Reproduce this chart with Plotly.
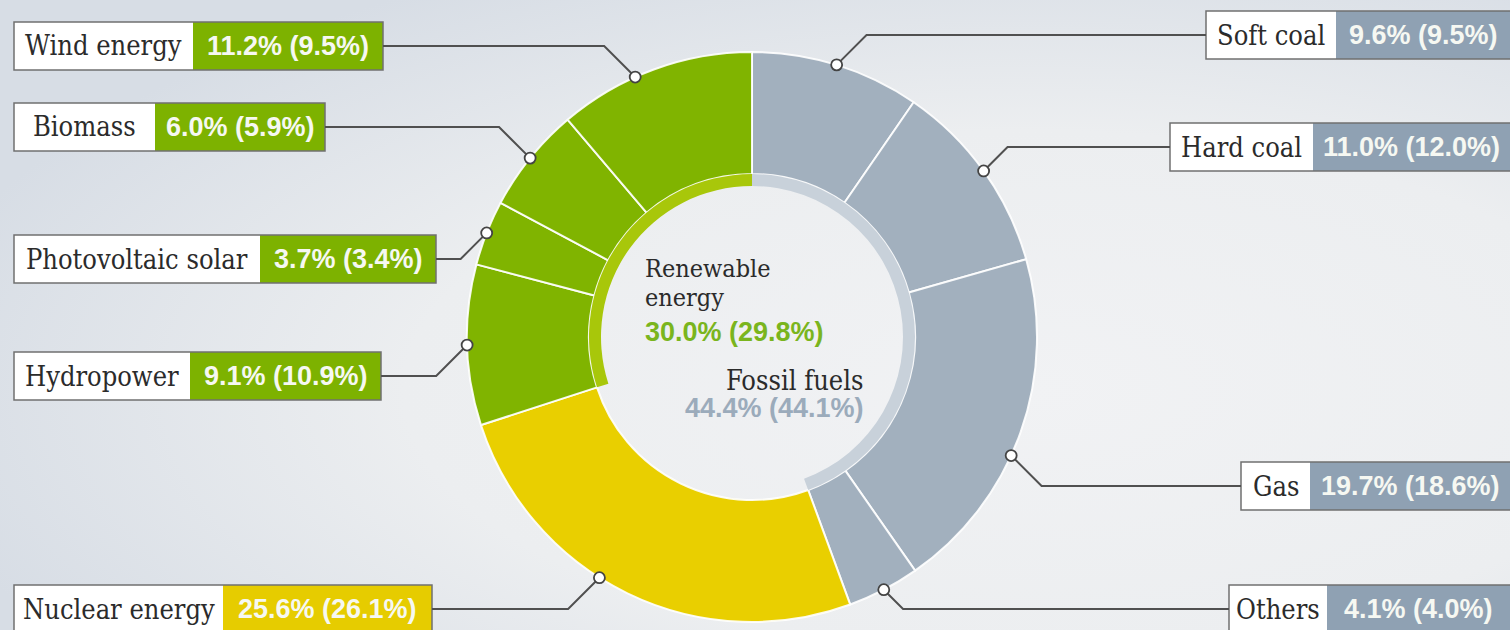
import base64
import numpy as np
import plotly.graph_objects as go

W, H = 1510, 630

# ---------------- data ----------------
categories = ["Soft coal", "Hard coal", "Gas", "Others", "Nuclear energy",
              "Hydropower", "Photovoltaic solar", "Biomass", "Wind energy"]
share_current = [9.6, 11.0, 19.7, 4.1, 25.6, 9.1, 3.7, 6.0, 11.2]
share_previous = [9.5, 12.0, 18.6, 4.0, 26.1, 10.9, 3.4, 5.9, 9.5]
category_group = ["fossil", "fossil", "fossil", "fossil", "nuclear",
                  "renewable", "renewable", "renewable", "renewable"]

group_names = ["Fossil fuels", "Nuclear energy", "Renewable energy"]
group_keys = ["fossil", "nuclear", "renewable"]
group_current = [44.4, 25.6, 30.0]
group_previous = [44.1, 26.1, 29.8]

# ---------------- styles ----------------
seg_color = {"fossil": "#a2b0be", "nuclear": "#e9cf00", "renewable": "#80b400"}
box_color = {"fossil": "#8fa1b3", "nuclear": "#e6cc00", "renewable": "#7db200"}
band_color = {"fossil": "#c8d1da", "nuclear": "rgba(0,0,0,0)", "renewable": "#a8c70a"}
center_text_color = {"fossil": "#9babbb", "renewable": "#7ab51d"}

SERIF = "DejaVu Serif Condensed, DejaVu Serif, serif"
SANS = "Liberation Sans, Arial, sans-serif"
SERIF_SIZE = 27
SANS_SIZE = 27

CX, CY = 752, 337          # donut centre (px)
R_OUT, R_MID, R_IN = 285, 163, 151

# label boxes: (x0, split, x1, y0, y1) in pixels
boxes = {
    "Wind energy":        (14, 193, 383, 22, 70),
    "Biomass":            (14, 155, 325, 103, 151),
    "Photovoltaic solar": (14, 260, 436, 235, 283),
    "Hydropower":         (14, 190, 381, 352, 400),
    "Nuclear energy":     (14, 223, 432, 585, 633),
    "Soft coal":          (1206, 1336, 1514, 11, 59),
    "Hard coal":          (1170, 1313, 1514, 123, 171),
    "Gas":                (1241, 1310, 1514, 462, 510),
    "Others":             (1229, 1327, 1514, 585, 633),
}
# where along its slice each leader line attaches (0 = slice start, 1 = slice end)
anchor_frac = {"Wind energy": 0.40, "Gas": 0.57, "Nuclear energy": 0.57}


def px(x):
    return x / W


def py(y):
    return 1 - y / H


fig = go.Figure()

# outer ring
fig.add_trace(go.Pie(
    labels=categories, values=share_current, sort=False,
    direction="clockwise", rotation=0, hole=R_MID / R_OUT,
    marker=dict(colors=[seg_color[g] for g in category_group],
                line=dict(color="rgba(255,255,255,0.9)", width=2)),
    textinfo="none", hoverinfo="skip", showlegend=False,
    domain=dict(x=[px(CX - R_OUT), px(CX + R_OUT)],
                y=[py(CY + R_OUT), py(CY - R_OUT)]),
))

# inner thin band of groups
fig.add_trace(go.Pie(
    labels=group_names, values=group_current, sort=False,
    direction="clockwise", rotation=0, hole=R_IN / R_MID,
    marker=dict(colors=[band_color[g] for g in group_keys],
                line=dict(color="rgba(0,0,0,0)", width=0)),
    textinfo="none", hoverinfo="skip", showlegend=False,
    domain=dict(x=[px(CX - R_MID), px(CX + R_MID)],
                y=[py(CY + R_MID), py(CY - R_MID)]),
))

shapes = []
annotations = []

total = sum(share_current)
ends = np.cumsum(share_current)
starts = ends - np.array(share_current)

for i, cat in enumerate(categories):
    g = category_group[i]
    x0, xs, x1, y0, y1 = boxes[cat]
    yc = (y0 + y1) / 2
    # boxes
    shapes.append(dict(type="rect", xref="paper", yref="paper",
                       x0=px(x0), x1=px(xs), y0=py(y1), y1=py(y0),
                       fillcolor="white", line=dict(width=0)))
    shapes.append(dict(type="rect", xref="paper", yref="paper",
                       x0=px(xs), x1=px(x1), y0=py(y1), y1=py(y0),
                       fillcolor=box_color[g], line=dict(width=0)))
    shapes.append(dict(type="rect", xref="paper", yref="paper",
                       x0=px(x0), x1=px(x1), y0=py(y1), y1=py(y0),
                       fillcolor="rgba(0,0,0,0)",
                       line=dict(color="#707070", width=1.5)))
    annotations.append(dict(x=px((x0 + xs) / 2), y=py(yc), xref="paper", yref="paper",
                            text=cat, showarrow=False, xanchor="center", yanchor="middle",
                            font=dict(family=SERIF, size=SERIF_SIZE, color="#2b2b2b")))
    vx1 = min(x1, W)
    annotations.append(dict(x=px((xs + vx1) / 2), y=py(yc), xref="paper", yref="paper",
                            text=f"{share_current[i]:.1f}% ({share_previous[i]:.1f}%)",
                            showarrow=False, xanchor="center", yanchor="middle",
                            font=dict(family=SANS, size=SANS_SIZE, color="#f6f8f2", weight="bold")))
    # leader line: from a point on the slice's outer edge
    f = anchor_frac.get(cat, 0.5)
    ang = (starts[i] + f * (ends[i] - starts[i])) / total * 2 * np.pi
    dx = CX + R_OUT * np.sin(ang)
    dy = CY - R_OUT * np.cos(ang)
    left = x1 < CX
    bx = x1 if left else x0
    ex = dx - abs(yc - dy) if left else dx + abs(yc - dy)
    shapes.append(dict(type="path", xref="paper", yref="paper",
                       path=f"M {px(bx)},{py(yc)} L {px(ex)},{py(yc)} L {px(dx)},{py(dy)}",
                       line=dict(color="#505050", width=2)))
    r = 5.5
    shapes.append(dict(type="circle", xref="paper", yref="paper",
                       x0=px(dx - r), x1=px(dx + r), y0=py(dy + r), y1=py(dy - r),
                       fillcolor="white", line=dict(color="#444444", width=1.8)))

# centre labels
ren = group_keys.index("renewable")
fos = group_keys.index("fossil")
ren_words = group_names[ren].split(" ")


def center_text(x, y, text, anchor, font):
    annotations.append(dict(x=px(x), y=py(y), xref="paper", yref="paper", text=text,
                            showarrow=False, xanchor=anchor, yanchor="middle", font=font))


serif_center = dict(family=SERIF, size=25, color="#2b2b2b")
center_text(643, 268, ren_words[0], "left", serif_center)
center_text(643, 297, ren_words[1], "left", serif_center)
center_text(643, 332, f"{group_current[ren]:.1f}% ({group_previous[ren]:.1f}%)", "left",
            dict(family=SANS, size=SANS_SIZE, color=center_text_color["renewable"], weight="bold"))
center_text(865, 380, group_names[fos], "right", dict(family=SERIF, size=SERIF_SIZE, color="#2b2b2b"))
center_text(866, 408, f"{group_current[fos]:.1f}% ({group_previous[fos]:.1f}%)", "right",
            dict(family=SANS, size=SANS_SIZE, color=center_text_color["fossil"], weight="bold"))

# background gradient
svg = (f'<svg xmlns="http://www.w3.org/2000/svg" width="{W}" height="{H}" '
       f'viewBox="0 0 {W} {H}" preserveAspectRatio="none">'
       '<defs><radialGradient id="g" cx="0.68" cy="0.62" r="0.75">'
       '<stop offset="0" stop-color="#f1f2f4"/><stop offset="0.55" stop-color="#eceef0"/>'
       '<stop offset="1" stop-color="#d7dde5"/></radialGradient></defs>'
       f'<rect width="{W}" height="{H}" fill="url(#g)"/></svg>')
bg = "data:image/svg+xml;base64," + base64.b64encode(svg.encode()).decode()

fig.update_layout(
    width=W, height=H,
    margin=dict(l=0, r=0, t=0, b=0),
    paper_bgcolor="#e9ecef", plot_bgcolor="rgba(0,0,0,0)",
    shapes=shapes, annotations=annotations,
    images=[dict(source=bg, xref="paper", yref="paper", x=0, y=1, sizex=1, sizey=1,
                 xanchor="left", yanchor="top", sizing="stretch", layer="below")],
    showlegend=False,
)

fig.write_html("out.html", config={"displayModeBar": False},
               post_script="document.body.style.margin='0';document.body.style.overflow='hidden';")
